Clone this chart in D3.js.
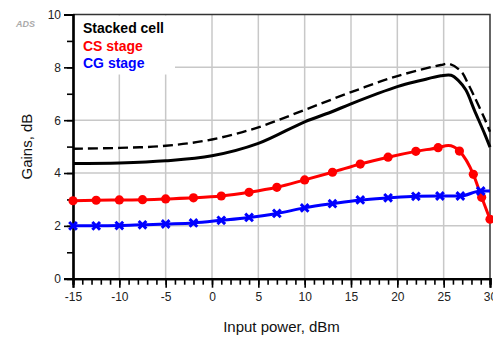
<!DOCTYPE html>
<html>
<head>
<meta charset="utf-8">
<script src="https://d3js.org/d3.v7.min.js"></script>
<style>
  body { margin: 0; background: #fff; }
  svg { display: block; font-family: "Liberation Sans", Arial, sans-serif; }
</style>
</head>
<body>
<div id="chart"></div>
<script>
// Gains vs input power

// Stacked cell (solid) and its dashed twin
const stackedPower = [-15, -10, -5, 0, 5, 10, 12.8, 15, 20, 22.5, 24.7, 25.8, 26.6, 27.4, 28.3, 29.4, 30];
const stackedGain = [4.36, 4.38, 4.46, 4.65, 5.12, 5.94, 6.30, 6.62, 7.27, 7.50, 7.68, 7.70, 7.50, 7.14, 6.39, 5.50, 4.98];
const dashedPower = [-15, -10, -5, 0, 5, 10, 15, 20, 24.7, 25.6, 26.9, 27.6, 28.3, 29.4, 30];
const dashedGain = [4.92, 4.95, 5.03, 5.27, 5.73, 6.39, 7.06, 7.67, 8.09, 8.13, 7.84, 7.40, 6.90, 6.07, 5.56];

// CS stage (red, circles)
const csPower = [-15, -12.5, -10, -7.5, -5, -2, 1, 4, 7, 10, 13, 16, 19, 22, 24.4, 26.7, 28.2, 29.1, 30];
const csGain = [2.95, 2.97, 2.98, 2.99, 3.02, 3.06, 3.13, 3.27, 3.46, 3.74, 4.03, 4.34, 4.60, 4.82, 4.96, 4.83, 3.95, 3.08, 2.25];
// extra line-only points (curve top between markers)
const csLinePower = [25.5];
const csLineGain = [5.04];

// CG stage (blue, crosses)
const cgPower = [-15, -12.5, -10, -7.5, -5, -2, 1, 4, 7, 10, 13, 16, 19, 22, 24.6, 26.8, 29.0];
const cgGain = [2.00, 2.00, 2.01, 2.04, 2.07, 2.11, 2.21, 2.32, 2.47, 2.68, 2.84, 2.98, 3.06, 3.12, 3.13, 3.13, 3.32];
const cgLinePower = [30];
const cgLineGain = [3.32];

const legendLabels = ["Stacked cell", "CS stage", "CG stage"];
const legendColors = ["#000", "#f00", "#00f"];

const xTicks = [-15, -10, -5, 0, 5, 10, 15, 20, 25, 30];
const yTicks = [0, 2, 4, 6, 8, 10];

const W = 493, H = 338;
const margin = { top: 14.5, right: 3, bottom: 59.3, left: 73 };

const svg = d3.select("#chart").append("svg")
    .attr("width", W)
    .attr("height", H);

const x = d3.scaleLinear().domain([-15, 30]).range([margin.left, W - margin.right]);
const y = d3.scaleLinear().domain([0, 10]).range([H - margin.bottom, margin.top]);

const x0 = x.range()[0], x1 = x.range()[1];
const y0 = y.range()[0], y1 = y.range()[1];

// Grid
svg.append("g").selectAll("line")
    .data(xTicks.slice(1, -1))
    .join("line")
    .attr("x1", d => x(d)).attr("x2", d => x(d))
    .attr("y1", y1).attr("y2", y0)
    .attr("stroke", "#c8c8c8").attr("stroke-width", 1.5);

svg.append("g").selectAll("line")
    .data(yTicks.slice(1, -1))
    .join("line")
    .attr("x1", x0).attr("x2", x1)
    .attr("y1", d => y(d)).attr("y2", d => y(d))
    .attr("stroke", "#c8c8c8").attr("stroke-width", 1.5);

// Legend background hides the grid behind it
svg.append("rect")
    .attr("x", x0 + 1).attr("y", y1 + 1)
    .attr("width", 101).attr("height", 59)
    .attr("fill", "#fff");

// Frame top / right
svg.append("path")
    .attr("d", `M${x0},${y1}H${x1}V${y0}`)
    .attr("fill", "none")
    .attr("stroke", "#333")
    .attr("stroke-width", 1.5);

// Axes (plain hyphen for negatives, like the original)
const fmt = d => String(d);

const xAxis = svg.append("g")
    .attr("transform", `translate(0,${y0})`)
    .call(d3.axisBottom(x).tickValues(d3.range(-15, 31, 1)).tickSize(6).tickFormat(""));
const xMajor = svg.append("g")
    .attr("transform", `translate(0,${y0})`)
    .call(d3.axisBottom(x).tickValues(xTicks).tickSize(9).tickPadding(5).tickFormat(fmt));

const yAxis = svg.append("g")
    .attr("transform", `translate(${x0},0)`)
    .call(d3.axisLeft(y).tickValues(d3.range(0, 11, 1)).tickSize(6).tickFormat(""));
const yMajor = svg.append("g")
    .attr("transform", `translate(${x0},0)`)
    .call(d3.axisLeft(y).tickValues(yTicks).tickSize(9).tickPadding(3).tickFormat(fmt));

[xAxis, xMajor, yAxis, yMajor].forEach(g => {
    g.select(".domain").attr("stroke", "#000").attr("stroke-width", 2.2);
    g.selectAll(".tick line").attr("stroke", "#000").attr("stroke-width", 1.6);
    g.selectAll("text").attr("fill", "#222")
        .style("font-size", "12px")
        .style("font-family", "'Liberation Sans', Arial, sans-serif");
});

// Lines
const smooth = d3.line()
    .x(d => x(d[0]))
    .y(d => y(d[1]))
    .curve(d3.curveCatmullRom.alpha(0.5));

const line = d3.line()
    .x(d => x(d[0]))
    .y(d => y(d[1]))
    .curve(d3.curveMonotoneX);

const zipPts = (xs, ys) => xs.map((v, i) => [v, ys[i]]);
const merged = (a, b) => a.concat(b).sort((p, q) => p[0] - q[0]);

const stackedPts = zipPts(stackedPower, stackedGain);
const dashedPts = zipPts(dashedPower, dashedGain);
const csPts = zipPts(csPower, csGain);
const cgPts = zipPts(cgPower, cgGain);

svg.append("path")
    .datum(dashedPts)
    .attr("fill", "none")
    .attr("stroke", "#000")
    .attr("stroke-width", 2.4)
    .attr("stroke-dasharray", "10,5")
    .attr("d", smooth);

svg.append("path")
    .datum(stackedPts)
    .attr("fill", "none")
    .attr("stroke", "#000")
    .attr("stroke-width", 3)
    .attr("d", smooth);

svg.append("path")
    .datum(merged(csPts, zipPts(csLinePower, csLineGain)))
    .attr("fill", "none")
    .attr("stroke", "#f00")
    .attr("stroke-width", 3)
    .attr("d", line);

svg.append("path")
    .datum(merged(cgPts, zipPts(cgLinePower, cgLineGain)))
    .attr("fill", "none")
    .attr("stroke", "#00f")
    .attr("stroke-width", 3)
    .attr("d", line);

// Markers
svg.append("g").selectAll("circle")
    .data(csPts)
    .join("circle")
    .attr("cx", d => x(d[0]))
    .attr("cy", d => y(d[1]))
    .attr("r", 4.6)
    .attr("fill", "#f00");

const cross = d3.symbol().type(d3.symbolX).size(40);
svg.append("g").selectAll("path")
    .data(cgPts)
    .join("path")
    .attr("transform", d => `translate(${x(d[0])},${y(d[1])})`)
    .attr("d", cross)
    .attr("fill", "none")
    .attr("stroke", "#00f")
    .attr("stroke-width", 3);

// Legend text
svg.append("g").selectAll("text")
    .data(legendLabels)
    .join("text")
    .attr("x", 83)
    .attr("y", (d, i) => 33 + i * 17.5)
    .attr("fill", (d, i) => legendColors[i])
    .style("font-size", "14px")
    .style("font-weight", "bold")
    .text(d => d);

// Axis titles
svg.append("text")
    .attr("x", (x0 + x1) / 2)
    .attr("y", 332)
    .attr("text-anchor", "middle")
    .attr("fill", "#111")
    .style("font-size", "15px")
    .text("Input power, dBm");

svg.append("text")
    .attr("transform", `translate(32,${(y0 + y1) / 2}) rotate(-90)`)
    .attr("text-anchor", "middle")
    .attr("fill", "#111")
    .style("font-size", "15px")
    .text("Gains, dB");

// Watermark
svg.append("text")
    .attr("x", 16)
    .attr("y", 27)
    .attr("fill", "#aaa")
    .style("font-size", "9px")
    .style("font-weight", "bold")
    .style("font-style", "italic")
    .text("ADS");
</script>
</body>
</html>
